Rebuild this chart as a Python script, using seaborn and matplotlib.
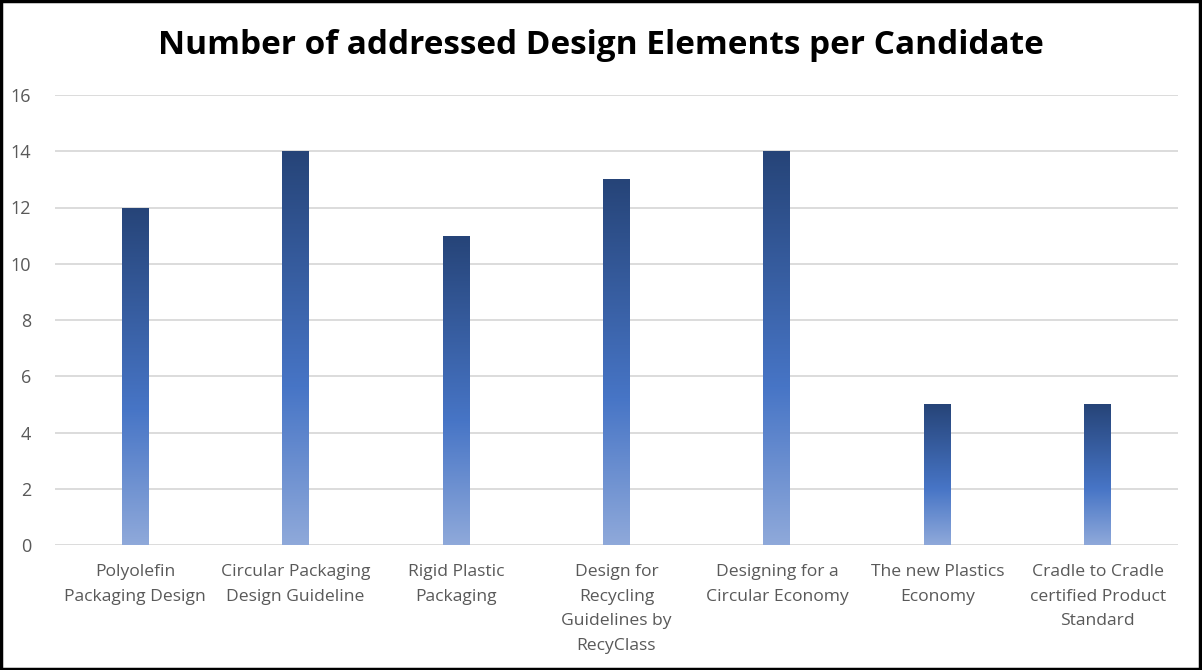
import numpy as np
import pandas as pd
import matplotlib
matplotlib.use("Agg")
import matplotlib.pyplot as plt
from matplotlib.colors import LinearSegmentedColormap
from matplotlib.patches import Rectangle
import seaborn as sns

categories = [
    "Polyolefin\nPackaging Design",
    "Circular Packaging\nDesign Guideline",
    "Rigid Plastic\nPackaging",
    "Design for\nRecycling\nGuidelines by\nRecyClass",
    "Designing for a\nCircular Economy",
    "The new Plastics\nEconomy",
    "Cradle to Cradle\ncertified Product\nStandard",
]
values = [12, 14, 11, 13, 14, 5, 5]
yticks = [0, 2, 4, 6, 8, 10, 12, 14, 16]
title = "Number of addressed Design Elements per Candidate"

sns.set_theme(style="white")
plt.rcParams["font.family"] = ["Open Sans", "DejaVu Sans"]

fig = plt.figure(figsize=(12.02, 6.70), dpi=100)
ax = fig.add_axes([55 / 1202, 1 - 545 / 670, (1178 - 55) / 1202, (545 - 95) / 670])

df = pd.DataFrame({"cat": categories, "val": values})
sns.barplot(data=df, x="cat", y="val", ax=ax, width=0.168, color="#4472C4",
            edgecolor="none", zorder=3)

ax.set_ylim(0, 16)
ax.set_yticks(yticks)
ax.yaxis.grid(True, color="#D9D9D9", linewidth=1.3, zorder=0)
ax.set_axisbelow(True)
for s in ax.spines.values():
    s.set_visible(False)
ax.tick_params(axis="both", length=0, colors="#595959", labelsize=13)
ax.tick_params(axis="y", pad=17)
ax.set_xlabel("")
ax.set_ylabel("")

cmap = LinearSegmentedColormap.from_list(
    "g", [(0.0, "#8FA9DA"), (0.4, "#4775C6"), (1.0, "#264478")])
grad = np.linspace(0, 1, 256).reshape(-1, 1)
for p in list(ax.patches):
    x0, y0 = p.get_x(), p.get_y()
    w, h = p.get_width(), p.get_height()
    im = ax.imshow(grad, cmap=cmap, origin="lower", aspect="auto",
                   extent=[x0, x0 + w, y0, y0 + h], zorder=3)
    im.set_clip_path(p)
    p.set_facecolor("none")
ax.set_xlim(-0.5, len(categories) - 0.5)
ax.set_ylim(0, 16)
ax.set_xticks(range(len(categories)))
ax.set_xticklabels([""] * len(categories))
for i, cat in enumerate(categories):
    ax.annotate(cat, xy=(i, 0), xycoords=("data", "axes fraction"),
                xytext=(0, -14), textcoords="offset points",
                ha="center", va="top", fontsize=12.6, color="#595959",
                linespacing=1.7, annotation_clip=False)

fig.text(0.5, 1 - 45 / 670, title, ha="center", va="center",
         fontsize=24, fontweight="bold", color="black")

fig.patches.append(Rectangle((0.001, 0.002), 0.997, 0.996, transform=fig.transFigure,
                             fill=False, edgecolor="black", linewidth=2.5))

fig.savefig("out.png", dpi=100)
